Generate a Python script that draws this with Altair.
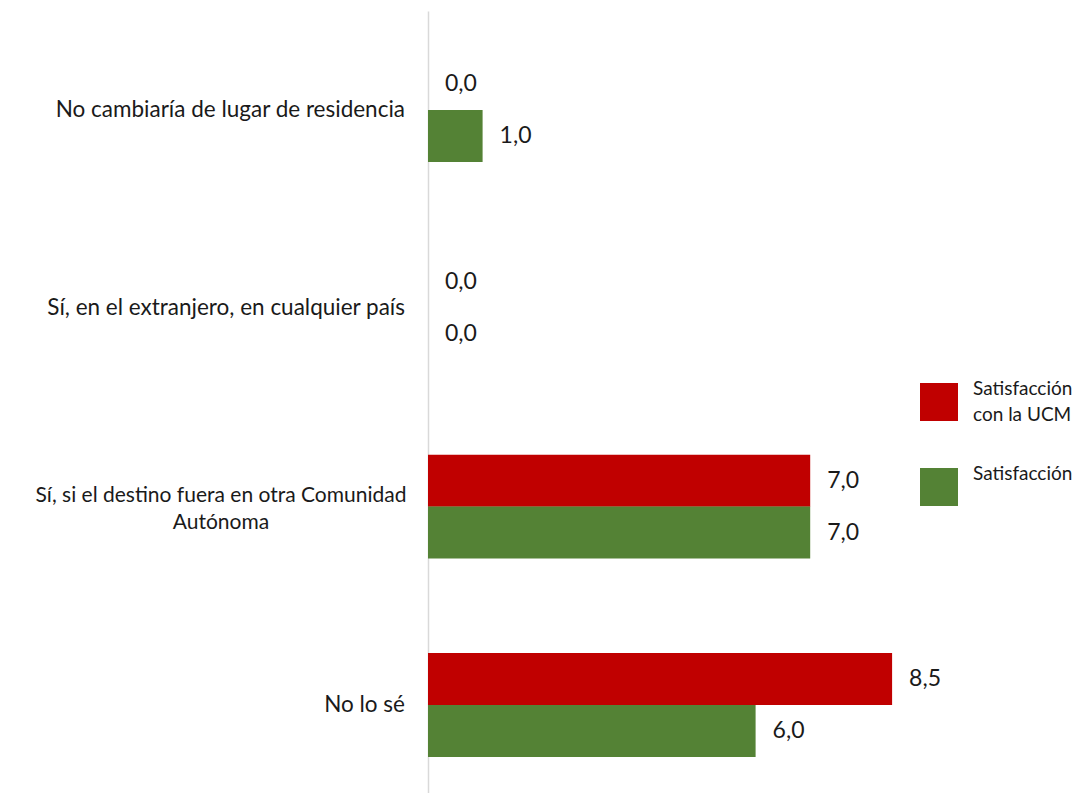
import altair as alt
import pandas as pd

categories = [
    "No cambiaría de lugar de residencia",
    "Sí, en el extranjero, en cualquier país",
    "Sí, si el destino fuera en otra Comunidad Autónoma",
    "No lo sé",
]
series = ["Satisfacción con la UCM", "Satisfacción"]
ucm_values = [0.0, 0.0, 7.0, 8.5]
sat_values = [1.0, 0.0, 7.0, 6.0]
colors = ["#C00000", "#548235"]
cat_label_lines = {
    "No cambiaría de lugar de residencia": ["No cambiaría de lugar de residencia"],
    "Sí, en el extranjero, en cualquier país": ["Sí, en el extranjero, en cualquier país"],
    "Sí, si el destino fuera en otra Comunidad Autónoma": ["Sí, si el destino fuera en otra Comunidad", "Autónoma"],
    "No lo sé": ["No lo sé"],
}

rows = []
for i, c in enumerate(categories):
    rows.append({"cat": c, "serie": series[0], "order": 0, "v": ucm_values[i]})
    rows.append({"cat": c, "serie": series[1], "order": 1, "v": sat_values[i]})
df = pd.DataFrame(rows)

labels_df = pd.DataFrame({
    "cat": categories,
    "single": [len(cat_label_lines[c]) == 1 for c in categories],
    "txt": ["|".join(cat_label_lines[c]) for c in categories],
})

FONT = "Lato"

y_enc = alt.Y("cat:N", sort=categories,
              scale=alt.Scale(paddingInner=0.476, paddingOuter=0.21, align=0.566),
              axis=alt.Axis(title=None, labels=False, ticks=False, domain=True,
                            domainColor="#d9d9d9", domainWidth=1.5, grid=False))
x_enc = alt.X("v:Q", scale=alt.Scale(domain=[0, 10], nice=False), axis=None)
yoff = alt.YOffset("serie:N", sort=series, scale=alt.Scale(paddingInner=0, paddingOuter=0))

bars = alt.Chart(df).mark_bar(size=52).encode(
    y=y_enc,
    x=x_enc,
    yOffset=yoff,
    color=alt.Color("serie:N", sort=series,
                    scale=alt.Scale(domain=series, range=colors),
                    legend=alt.Legend(
                        title=None, orient="none", legendX=492, legendY=372,
                        symbolType="square", symbolSize=1444, symbolStrokeWidth=0,
                        symbolOpacity=1, labelFont=FONT, labelFontSize=19,
                        labelColor="#1a1a1a", labelBaseline="line-bottom", labelOffset=15,
                        rowPadding=40, padding=0, labelLimit=200,
                        labelExpr="datum.label == 'Satisfacción con la UCM' ? ['Satisfacción', 'con la UCM'] : 'Satisfacción'",
                    )),
)

values_txt = alt.Chart(df).transform_calculate(
    lab="replace(format(datum.v, '.1f'), '.', ',')"
).mark_text(align="left", baseline="middle", dx=17, font=FONT, fontSize=23, color="#1a1a1a").encode(
    y=alt.Y("cat:N", sort=categories),
    x=alt.X("v:Q"),
    yOffset=yoff,
    text="lab:N",
)

cat_single = alt.Chart(labels_df).transform_filter("datum.single").mark_text(
    align="right", baseline="middle", font=FONT, fontSize=22.5, color="#1a1a1a"
).encode(
    y=alt.Y("cat:N", sort=categories),
    x=alt.value(-23),
    text="txt:N",
)

cat_multi = alt.Chart(labels_df).transform_filter("!datum.single").mark_text(
    align="center", baseline="middle", font=FONT, fontSize=21, color="#1a1a1a",
    lineBreak="|", lineHeight=27, dy=-11
).encode(
    y=alt.Y("cat:N", sort=categories),
    x=alt.value(-207),
    text="txt:N",
)

chart = alt.layer(bars, values_txt, cat_single, cat_multi).properties(
    width=546, height=782,
    autosize=alt.AutoSizeParams(type="none"),
    padding={"left": 420, "top": 3, "right": 99, "bottom": 0},
).configure(
    style={"guide-label": {"lineHeight": 26}},
    view={"stroke": "transparent"},
)

chart.save("out.html", embed_options={"renderer": "svg", "actions": False})
